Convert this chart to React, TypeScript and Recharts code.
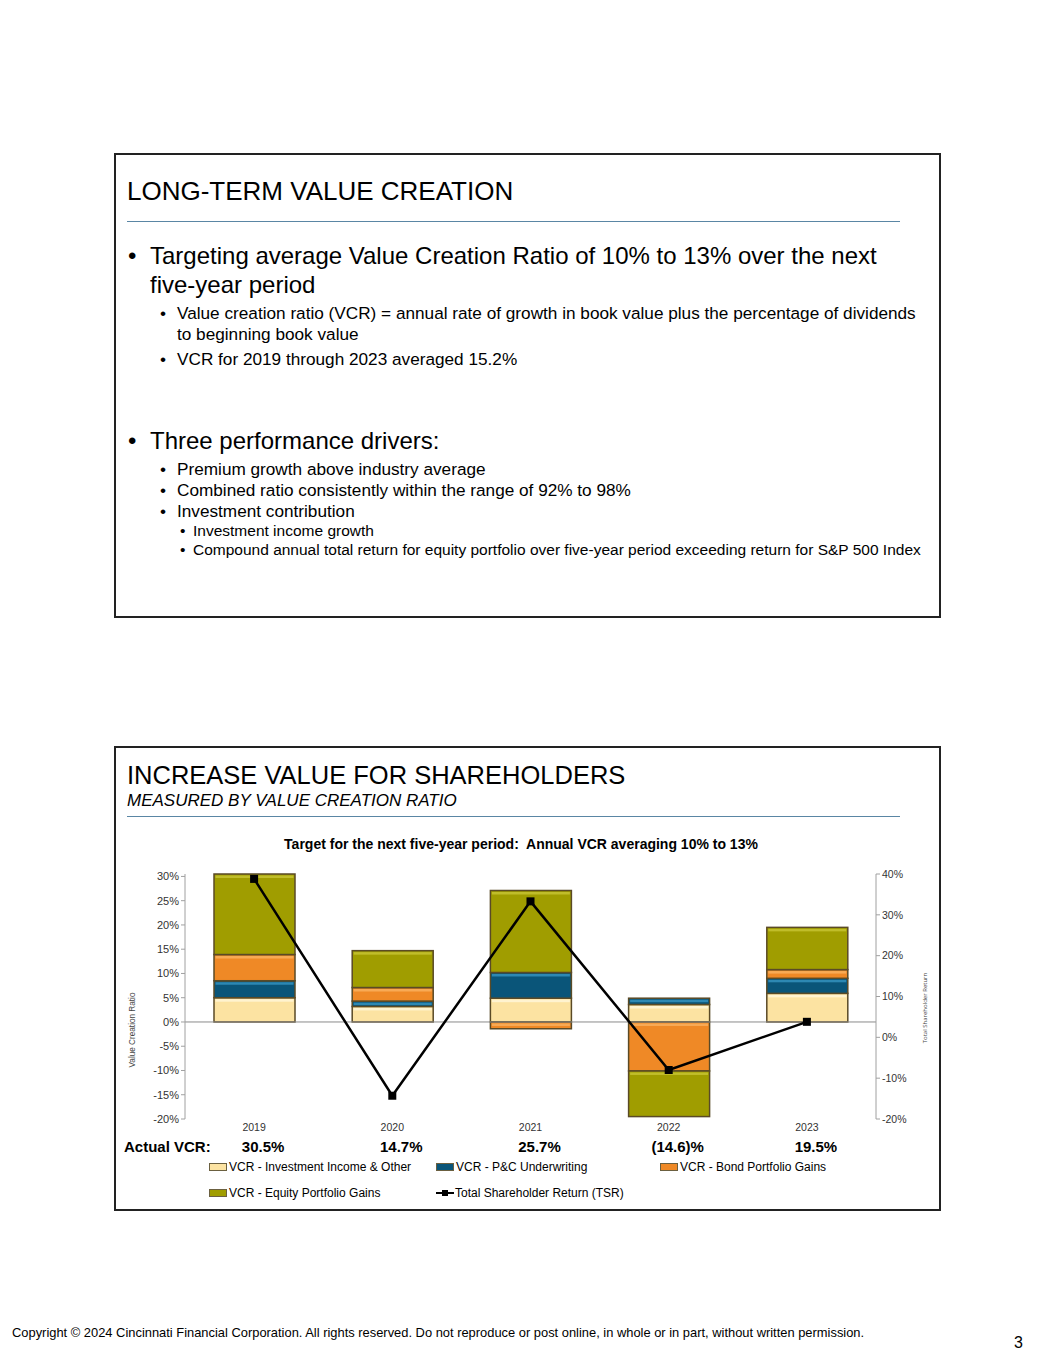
import React from 'react';
import { ComposedChart, Bar, Line, XAxis, YAxis, ReferenceLine } from 'recharts';

const years = ['2019', '2020', '2021', '2022', '2023'];
const investmentIncome = [5.0, 3.2, 4.9, 3.6, 5.9];
const pcUnderwriting = [3.5, 1.1, 5.3, 1.3, 3.1];
const bondGains = [5.4, 2.8, -1.4, -10.1, 1.8];
const equityGains = [16.6, 7.6, 16.9, -9.4, 8.7];
const tsr = [38.8, -14.3, 33.3, -8.0, 3.8];
const actualVcr = ['30.5%', '14.7%', '25.7%', '(14.6)%', '19.5%'];

const vcrTicks = [-20, -15, -10, -5, 0, 5, 10, 15, 20, 25, 30];
const tsrTicks = [-20, -10, 0, 10, 20, 30, 40];

const series = [
  { key: 'inv', name: 'VCR - Investment Income & Other', fill: '#FCE3A2', hi: '#FFF3CF' },
  { key: 'pc', name: 'VCR - P&C Underwriting', fill: '#0A5579', hi: '#2D88B3' },
  { key: 'bond', name: 'VCR - Bond Portfolio Gains', fill: '#EF8926', hi: '#F8AA55' },
  { key: 'eq', name: 'VCR - Equity Portfolio Gains', fill: '#A09D00', hi: '#C0BD2A' },
];

const chartData = years.map((y, i) => ({
  year: y,
  inv: investmentIncome[i],
  pc: pcUnderwriting[i],
  bond: bondGains[i],
  eq: equityGains[i],
  tsr: tsr[i],
}));

const FONT = '"Liberation Sans", Arial, sans-serif';

const Segment = (props: any) => {
  const { x, y, width, height, fill, hi } = props;
  const top = Math.min(y, y + height);
  const h = Math.abs(height);
  if (!h || !width) return null;
  return (
    <g>
      <rect x={x} y={top} width={width} height={h} fill={fill} stroke="#5a4a26" strokeWidth={1.5} />
      {h > 5 && <rect x={x + 1.5} y={top + 1.5} width={width - 3} height={2.5} fill={hi} />}
    </g>
  );
};

const SquareDot = (props: any) => {
  const { cx, cy } = props;
  if (cx == null || cy == null) return null;
  return <rect x={cx - 4} y={cy - 4} width={8} height={8} fill="#000" />;
};

const YearTick = (props: any) => {
  const { x, y, payload, index } = props;
  return (
    <g>
      <text x={x} y={y + 12} textAnchor="middle" fontSize={10.5} fill="#333" fontFamily={FONT}>
        {payload.value}
      </text>
      <text x={x + 9} y={y + 33} textAnchor="middle" fontSize={15} fontWeight="bold" fill="#000" fontFamily={FONT}>
        {actualVcr[index]}
      </text>
    </g>
  );
};

const Txt = ({ x, y, size, children, style }: any) => (
  <div
    style={{
      position: 'absolute',
      left: x,
      top: y - size * 0.62,
      fontSize: size,
      lineHeight: `${size * 1.2}px`,
      whiteSpace: 'nowrap',
      color: '#000',
      ...style,
    }}
  >
    {children}
  </div>
);

const Bullet = ({ bx, tx, y, size, children }: any) => (
  <>
    <Txt x={bx} y={y} size={size}>•</Txt>
    <Txt x={tx} y={y} size={size}>{children}</Txt>
  </>
);

const LegendSwatch = ({ color }: any) => (
  <span
    style={{
      display: 'inline-block',
      width: 16,
      height: 6,
      background: color,
      border: '1px solid #6b6040',
      marginRight: 2,
      verticalAlign: 'middle',
    }}
  />
);

const LineSwatch = () => (
  <svg width={18} height={8} style={{ verticalAlign: 'middle', marginRight: 1 }}>
    <line x1={0} y1={4} x2={18} y2={4} stroke="#000" strokeWidth={2} />
    <rect x={6} y={1} width={6} height={6} fill="#000" />
  </svg>
);

const legendItems = [
  { x: 209, y: 1167, idx: 0 },
  { x: 436, y: 1167, idx: 1 },
  { x: 660, y: 1167, idx: 2 },
  { x: 209, y: 1193, idx: 3 },
];

const App = () => {
  return (
    <div style={{ position: 'absolute', left: 0, top: 0, width: 1055, height: 1365, background: '#fff', fontFamily: FONT }}>
      {/* slide 1 */}
      <div style={{ position: 'absolute', left: 114, top: 153, width: 823, height: 461, border: '2px solid #222' }} />
      <Txt x={127} y={192} size={26}>LONG-TERM VALUE CREATION</Txt>
      <div style={{ position: 'absolute', left: 127, top: 221, width: 773, height: 1, background: '#5a86a4' }} />
      <Bullet bx={128} tx={150} y={257} size={24}>Targeting average Value Creation Ratio of 10% to 13% over the next</Bullet>
      <Txt x={150} y={286} size={24}>five-year period</Txt>
      <Bullet bx={160} tx={177} y={314} size={17.2}>Value creation ratio (VCR) = annual rate of growth in book value plus the percentage of dividends</Bullet>
      <Txt x={177} y={335} size={17.2}>to beginning book value</Txt>
      <Bullet bx={160} tx={177} y={360} size={17.2}>VCR for 2019 through 2023 averaged 15.2%</Bullet>
      <Bullet bx={128} tx={150} y={442} size={24}>Three performance drivers:</Bullet>
      <Bullet bx={160} tx={177} y={470} size={17.2}>Premium growth above industry average</Bullet>
      <Bullet bx={160} tx={177} y={491} size={17.2}>Combined ratio consistently within the range of 92% to 98%</Bullet>
      <Bullet bx={160} tx={177} y={512} size={17.2}>Investment contribution</Bullet>
      <Bullet bx={180} tx={193} y={532} size={15.5}>Investment income growth</Bullet>
      <Bullet bx={180} tx={193} y={551} size={15.5}>Compound annual total return for equity portfolio over five-year period exceeding return for S&amp;P 500 Index</Bullet>

      {/* slide 2 */}
      <div style={{ position: 'absolute', left: 114, top: 746, width: 823, height: 461, border: '2px solid #222' }} />
      <Txt x={127} y={776} size={25.5}>INCREASE VALUE FOR SHAREHOLDERS</Txt>
      <Txt x={127} y={802} size={17}>
        <span style={{ fontStyle: 'italic' }}>MEASURED BY VALUE CREATION RATIO</span>
      </Txt>
      <div style={{ position: 'absolute', left: 127, top: 816, width: 773, height: 1, background: '#5a86a4' }} />
      <div style={{ position: 'absolute', left: 120, top: 836, width: 802, textAlign: 'center', fontSize: 14, fontWeight: 'bold', lineHeight: '17px' }}>
        Target for the next five-year period:&nbsp; Annual VCR averaging 10% to 13%
      </div>

      <div style={{ position: 'absolute', left: 120, top: 860 }}>
        <ComposedChart
          width={820}
          height={299}
          data={chartData}
          stackOffset="sign"
          margin={{ top: 14, right: 0, bottom: 0, left: 0 }}
        >
          <XAxis
            dataKey="year"
            height={40}
            axisLine={false}
            tickLine={false}
            tickSize={0}
            tickMargin={0}
            interval={0}
            tick={<YearTick />}
          />
          <YAxis
            yAxisId="left"
            orientation="left"
            width={65}
            domain={[-20, 30]}
            ticks={vcrTicks}
            tickFormatter={(v) => `${v}%`}
            axisLine={{ stroke: '#a0a0a0' }}
            tickLine={{ stroke: '#a0a0a0' }}
            tickSize={4}
            tick={{ fontSize: 11, fill: '#333', fontFamily: FONT }}
          />
          <YAxis
            yAxisId="right"
            orientation="right"
            width={64}
            domain={[-20, 40]}
            ticks={tsrTicks}
            tickFormatter={(v) => `${v}%`}
            axisLine={{ stroke: '#a0a0a0' }}
            tickLine={{ stroke: '#a0a0a0' }}
            tickSize={4}
            tick={{ fontSize: 10.5, fill: '#333', fontFamily: FONT }}
          />
          <ReferenceLine y={0} yAxisId="left" stroke="#8a8a8a" strokeWidth={1} />
          {series.map((s) => (
            <Bar
              key={s.key}
              dataKey={s.key}
              name={s.name}
              stackId="vcr"
              yAxisId="left"
              fill={s.fill}
              barSize={81}
              isAnimationActive={false}
              shape={(p: any) => <Segment {...p} fill={s.fill} hi={s.hi} />}
            />
          ))}
          <Line
            dataKey="tsr"
            name="Total Shareholder Return (TSR)"
            yAxisId="right"
            stroke="#000"
            strokeWidth={2.5}
            dot={<SquareDot />}
            activeDot={false}
            isAnimationActive={false}
          />
        </ComposedChart>
      </div>

      <div style={{ position: 'absolute', left: 133 - 50, top: 1030 - 6, width: 100, height: 12, transform: 'rotate(-90deg)', textAlign: 'center', fontSize: 8.2, lineHeight: '12px', color: '#444' }}>
        Value Creation Ratio
      </div>
      <div style={{ position: 'absolute', left: 925 - 50, top: 1008 - 6, width: 100, height: 12, transform: 'rotate(-90deg)', textAlign: 'center', fontSize: 6, lineHeight: '12px', color: '#444', fontFamily: '"Open Sans", sans-serif' }}>
        Total Shareholder Return
      </div>

      <Txt x={124} y={1147} size={15} style={{ fontWeight: 'bold' }}>Actual VCR:</Txt>

      {legendItems.map((l) => (
        <Txt key={l.idx} x={l.x} y={l.y} size={12}>
          <LegendSwatch color={series[l.idx].fill} />
          {series[l.idx].name}
        </Txt>
      ))}
      <Txt x={436} y={1193} size={12}>
        <LineSwatch />
        Total Shareholder Return (TSR)
      </Txt>

      <Txt x={12} y={1333} size={12.9}>
        Copyright © 2024 Cincinnati Financial Corporation. All rights reserved. Do not reproduce or post online, in whole or in part, without written permission.
      </Txt>
      <Txt x={1014} y={1343} size={16}>3</Txt>
    </div>
  );
};

export default App;
